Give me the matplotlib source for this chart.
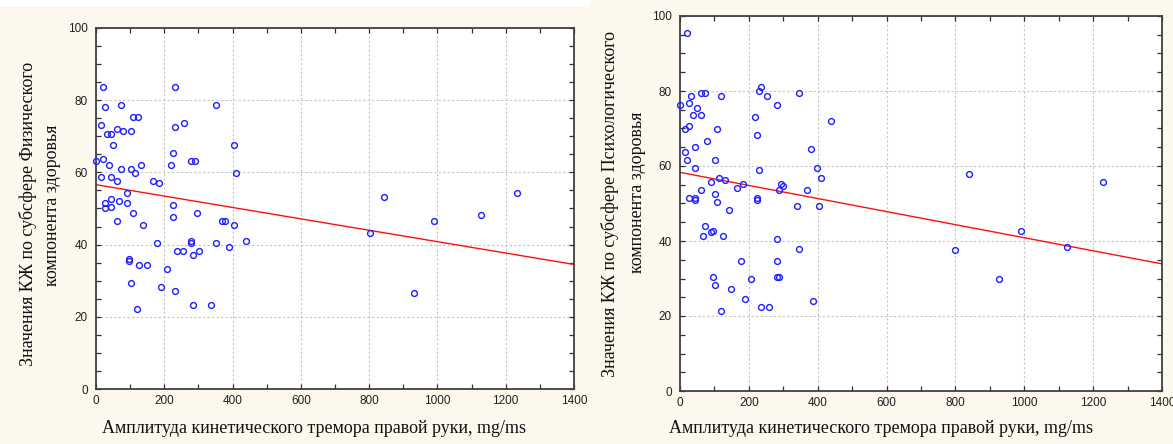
import matplotlib
matplotlib.use("Agg")
import matplotlib.pyplot as plt
from matplotlib.ticker import MultipleLocator
from matplotlib.patches import Rectangle

# ---------------- data ----------------
x_phys = [21, 232, 26, 74, 350, 108, 122, 15, 232, 257, 62, 79, 103, 32, 44, 50, 403, 226,
          0, 21, 38, 132, 221, 279, 291, 74, 103, 115, 409, 15, 44, 62, 168, 185, 91, 26,
          44, 68, 91, 226, 26, 44, 109, 297, 226, 62, 368, 379, 138, 403, 179, 279, 279,
          350, 438, 391, 238, 256, 303, 285, 97, 97, 126, 150, 209, 103, 191, 232, 285,
          338, 121, 844, 991, 803, 932, 1127, 1232]
y_phys = [83.7, 83.7, 78.2, 78.8, 78.8, 75.4, 75.4, 73.2, 72.7, 73.8, 72.1, 71.6, 71.6, 70.5,
          70.5, 67.7, 67.7, 65.5, 63.2, 63.8, 62.1, 62.1, 62.1, 63.2, 63.2, 61.0, 61.0, 59.9,
          59.9, 58.8, 58.8, 57.7, 57.7, 57.2, 54.4, 51.6, 52.7, 52.2, 51.6, 51.1, 50.0, 50.5,
          48.8, 48.8, 47.7, 46.6, 46.6, 46.6, 45.5, 45.5, 40.5, 41.0, 40.5, 40.5, 41.0, 39.4,
          38.3, 38.3, 38.3, 37.2, 36.1, 35.5, 34.4, 34.4, 33.3, 29.4, 28.3, 27.2, 23.4, 23.4,
          22.2, 53.3, 46.6, 43.3, 26.7, 48.3, 54.4]

x_psych = [20, 230, 235, 346, 61, 73, 32, 119, 253, 26, 282, 0, 49, 38, 61, 218, 439, 15, 26,
           107, 224, 78, 44, 15, 381, 20, 102, 44, 398, 230, 113, 131, 410, 90, 183, 293, 299,
           166, 288, 61, 369, 102, 26, 44, 44, 224, 224, 107, 340, 404, 142, 73, 96, 90, 67,
           125, 282, 346, 177, 282, 96, 282, 288, 102, 206, 148, 189, 386, 235, 259, 119,
           839, 991, 799, 927, 1229, 1124]
y_psych = [95.5, 79.9, 81.0, 79.4, 79.4, 79.4, 78.8, 78.8, 78.8, 76.7, 76.2, 76.2, 75.6, 73.5,
           73.5, 73.0, 71.9, 69.8, 70.8, 69.8, 68.2, 66.6, 65.0, 63.8, 64.4, 61.6, 61.6, 59.5,
           59.5, 58.9, 56.8, 56.3, 56.8, 55.7, 55.2, 55.2, 54.7, 54.0, 53.5, 53.5, 53.5, 52.4,
           51.4, 51.4, 50.9, 51.4, 50.9, 50.3, 49.2, 49.2, 48.2, 43.9, 42.8, 42.3, 41.2, 41.2,
           40.6, 37.9, 34.7, 34.7, 30.5, 30.5, 30.5, 28.4, 29.9, 27.3, 24.6, 24.1, 22.5, 22.5,
           21.4, 57.9, 42.8, 37.5, 29.9, 55.6, 38.5]

fit_x = [0, 1400]
fit_phys = [56.6, 34.5]
fit_psych = [58.3, 33.9]

xlabel_text = "Амплитуда кинетического тремора правой руки, mg/ms"
ylabel_phys = ["Значения КЖ по субсфере Физического", "компонента здоровья"]
ylabel_psych = ["Значения КЖ по субсфере Психологического", "компонента здоровья"]

# ---------------- figure ----------------
W, H = 1173, 444
bg = "#fdf8ed"
fig = plt.figure(figsize=(W / 100, H / 100), dpi=100, facecolor=bg)
fig.patches.append(Rectangle((0, 1 - 7 / H), 590 / W, 7 / H, transform=fig.transFigure,
                             facecolor="white", edgecolor="none", zorder=0))


def px_box(l, t, r, b):
    return [l / W, 1 - b / H, (r - l) / W, (b - t) / H]


def style(ax):
    ax.set_facecolor("white")
    ax.set_xlim(0, 1400)
    ax.set_ylim(0, 100)
    ax.xaxis.set_major_locator(MultipleLocator(200))
    ax.xaxis.set_minor_locator(MultipleLocator(100))
    ax.yaxis.set_major_locator(MultipleLocator(20))
    ax.yaxis.set_minor_locator(MultipleLocator(5))
    ax.tick_params(which="both", direction="in", top=True, right=True, length=3.5,
                   width=0.9, color="#303030")
    ax.tick_params(which="major", labelsize=8.5, labelcolor="#202020")
    ax.tick_params(axis="x", which="major", pad=4)
    ax.tick_params(axis="y", which="major", pad=6)
    for lab in ax.get_xticklabels() + ax.get_yticklabels():
        lab.set_fontfamily("Liberation Sans")
    for s in ax.spines.values():
        s.set_color("#404040")
        s.set_linewidth(1.3)
    ax.grid(True, which="major", color="#c4c4c4", linestyle=(0, (2, 2)), linewidth=0.8)
    ax.set_axisbelow(True)


ax1 = fig.add_axes(px_box(96, 28, 574, 389))
style(ax1)
ax1.plot(x_phys, y_phys, linestyle="none", marker="o", markersize=4.2,
         markerfacecolor="none", markeredgecolor="#1f1fff", markeredgewidth=1.0,
         clip_on=False, zorder=3)
ax1.plot(fit_x, fit_phys, color="#ff1010", linewidth=1.0, zorder=2)

ax2 = fig.add_axes(px_box(680, 16, 1162, 391))
style(ax2)
ax2.plot(x_psych, y_psych, linestyle="none", marker="o", markersize=4.2,
         markerfacecolor="none", markeredgecolor="#1f1fff", markeredgewidth=1.0,
         clip_on=False, zorder=3)
ax2.plot(fit_x, fit_psych, color="#ff1010", linewidth=1.0, zorder=2)

serif = "Liberation Serif"
lab_size = 13

fig.text(314 / W, 1 - 428 / H, xlabel_text, ha="center", va="center",
         fontsize=lab_size, family=serif, color="#111111")
fig.text(881 / W, 1 - 428 / H, xlabel_text, ha="center", va="center",
         fontsize=lab_size, family=serif, color="#111111")

fig.text(28 / W, 1 - 214 / H, ylabel_phys[0], rotation=90, ha="center", va="center",
         fontsize=lab_size, family=serif, color="#111111")
fig.text(53 / W, 1 - 205 / H, ylabel_phys[1], rotation=90, ha="center", va="center",
         fontsize=lab_size, family=serif, color="#111111")
fig.text(610 / W, 1 - 204 / H, ylabel_psych[0], rotation=90, ha="center", va="center",
         fontsize=lab_size, family=serif, color="#111111")
fig.text(638 / W, 1 - 192 / H, ylabel_psych[1], rotation=90, ha="center", va="center",
         fontsize=lab_size, family=serif, color="#111111")

fig.savefig("out.png", dpi=100, facecolor=bg)
